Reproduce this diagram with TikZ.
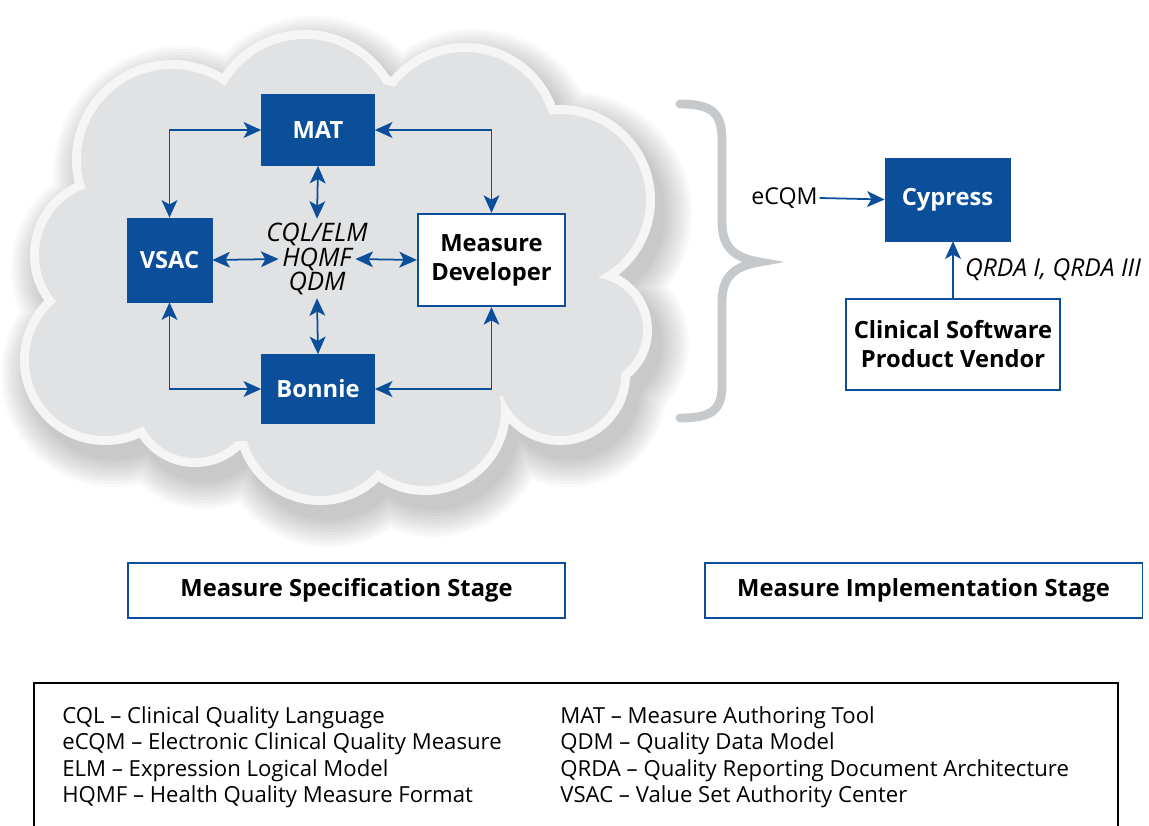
\documentclass[tikz,border=0pt]{standalone}
\usepackage{fontspec}
\setmainfont{Open Sans}
\usetikzlibrary{arrows.meta,positioning}

\definecolor{cmsblue}{HTML}{0B4F9B}
\definecolor{cloudgray}{HTML}{E1E2E4}
\definecolor{cloudedge}{HTML}{F5F5F6}
\definecolor{bracegray}{HTML}{C6C9CC}

\begin{document}
\begin{tikzpicture}[x=0.02cm, y=-0.02cm,
  bluebox/.style={draw=cmsblue, fill=cmsblue, text=white, inner sep=0pt,
    font=\bfseries\fontsize{13.5}{15}\selectfont},
  whitebox/.style={draw=cmsblue, line width=1.3pt, fill=white, inner sep=0pt,
    align=center, font=\bfseries\fontsize{13.5}{16.5}\selectfont},
  stagebox/.style={draw=cmsblue, line width=1.1pt, fill=white, inner sep=0pt,
    minimum width=8.76cm, minimum height=1.1cm, font=\bfseries\fontsize{13.5}{15}\selectfont},
  fmt/.style={font=\itshape\fontsize{14.5}{16}\selectfont, inner sep=2pt},
  legtext/.style={anchor=west, inner sep=0pt, font=\fontsize{12.6}{14}\selectfont},
  link/.style={cmsblue, line width=1pt, {Stealth[length=10pt,width=9pt,inset=2.5pt]}-{Stealth[length=10pt,width=9pt,inset=2.5pt]}},
  oneway/.style={cmsblue, line width=1pt, -{Stealth[length=10pt,width=9pt,inset=2.5pt]}}]
\useasboundingbox (0,0) rectangle (1149,825);
%% cloud puffs, x/y/radius in px
\def\puffs{172/160/100, 305/130/100, 465/140/97, 560/200/95, 590/330/62, 560/375/70,
  425/410/85, 320/420/85, 195/400/67, 105/360/85, 110/255/80, 340/270/200,
  500/320/85, 240/370/80, 170/290/90, 450/230/110}
% soft shadow
\foreach\k in {0,...,9}
  \fill[black, opacity=0.022] foreach \cx/\cy/\rad in \puffs {(\cx+9,\cy+14) circle[radius=\rad+1+3*\k]};
% white rim and body
\fill[cloudedge] foreach \cx/\cy/\rad in \puffs {(\cx,\cy) circle[radius=\rad]};
\fill[cloudgray] foreach \cx/\cy/\rad in \puffs {(\cx,\cy) circle[radius=\rad-9]};
%
% specification stage
\node[bluebox, minimum width=2.26cm, minimum height=1.42cm] (mat) at (318,130) {MAT};
\node[bluebox, minimum width=1.7cm, minimum height=1.68cm] (vsac) at (169.5,260) {VSAC};
\node[bluebox, minimum width=2.26cm, minimum height=1.38cm] (bonnie) at (318,389) {Bonnie};
\node[whitebox, minimum width=2.94cm, minimum height=1.84cm] (mdev) at (491.5,260) {Measure\\Developer};
\node[fmt] (cql) at (317,234) {CQL/ELM};
\node[fmt] (hqmf) at (317,259) {HQMF};
\node[fmt] (qdm) at (317,283) {QDM};
%
\draw[link] (vsac.north) |- (mat.west);
\draw[link] (mdev.north) |- (mat.east);
\draw[link] (vsac.south) |- (bonnie.west);
\draw[link] (mdev.south) |- (bonnie.east);
\draw[link] (mat.south) -- (cql.north);
\draw[link] (qdm.south) -- (bonnie.north);
\draw[link] (vsac.east) -- (hqmf.west);
\draw[link] (hqmf.east) -- (mdev.west);
%
% brace
\draw[bracegray, line width=5pt, line cap=round] (680,104) .. controls (712,104) and (722,113) .. (722,140)
  -- (722,222) .. controls (722,248) and (735,258) .. (760,262)
  .. controls (735,266) and (722,276) .. (722,302)
  -- (722,385) .. controls (722,410) and (712,418) .. (680,418);
%
% implementation stage
\node[bluebox, minimum width=2.5cm, minimum height=1.66cm] (cyp) at (947.5,199.5) {Cypress};
\node[whitebox, minimum width=4.28cm, minimum height=1.82cm] (vendor) at (953,344.5) {Clinical Software\\Product Vendor};
\node[inner sep=1pt, font=\fontsize{13.2}{15}\selectfont] (ecqm) at (784.5,198) {eCQM};
\draw[oneway] (ecqm.east) -- (cyp.west);
\draw[oneway] (vendor.north) -- (vendor.north |- cyp.south)
  node[midway, right, xshift=3pt, text=black, font=\itshape\fontsize{14}{16}\selectfont] {QRDA I, QRDA III};
%
% stage labels
\node[stagebox] (specstage) at (346.5,590.5) {Measure Specification Stage};
\node[stagebox] (implstage) at (923.5,590.5) {Measure Implementation Stage};
%
% legend
\draw[line width=1.4pt] (34,683) rectangle (1118,840);
\foreach\abbr/\full [count=\i] in {CQL/Clinical Quality Language, eCQM/Electronic Clinical Quality Measure,
    ELM/Expression Logical Model, HQMF/Health Quality Measure Format}
  \node[legtext] (defa\i) at (62,691+26.5*\i) {\abbr{} -- \full};
\foreach\abbr/\full [count=\i] in {MAT/Measure Authoring Tool, QDM/Quality Data Model,
    QRDA/Quality Reporting Document Architecture, VSAC/Value Set Authority Center}
  \node[legtext] (defb\i) at (560,691+26.5*\i) {\abbr{} -- \full};
\end{tikzpicture}
\end{document}
